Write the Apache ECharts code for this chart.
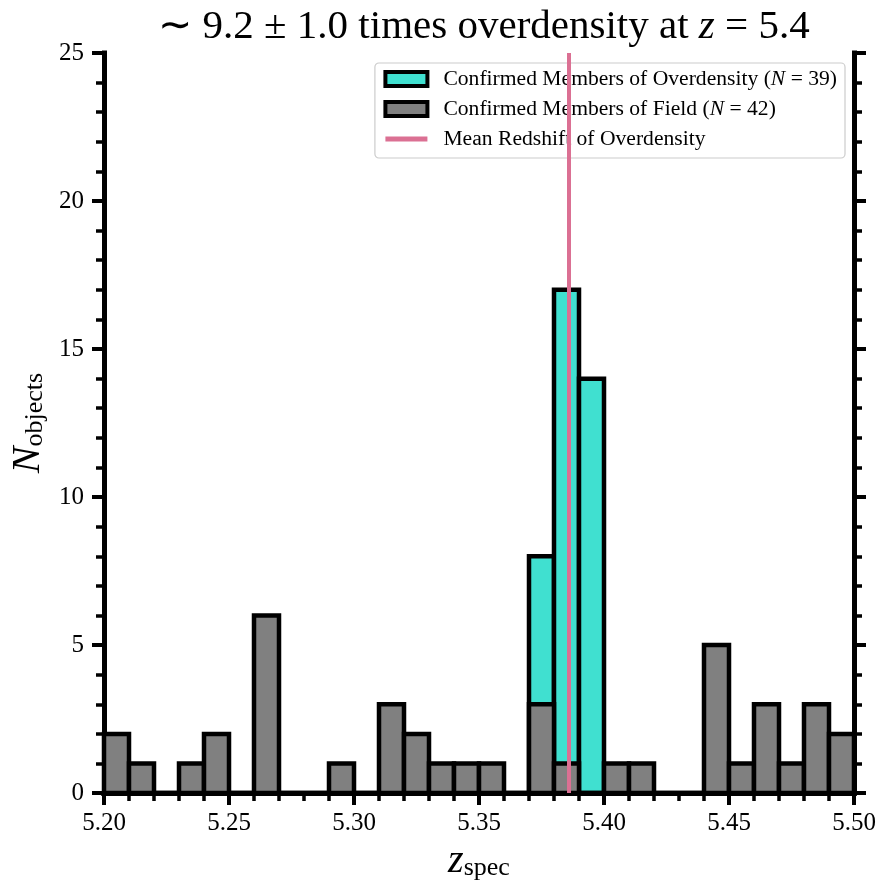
<!DOCTYPE html>
<html>
<head>
<meta charset="utf-8">
<script src="https://cdn.jsdelivr.net/npm/echarts@6/dist/echarts.min.js"></script>
<style>
  html, body { margin: 0; padding: 0; background: #fff; }
  #chart { width: 881px; height: 886px; }
</style>
</head>
<body>
<div id="chart"></div>
<script>
  // bin edges of the histogram (width 0.01)
  var binEdges = [5.20, 5.21, 5.22, 5.23, 5.24, 5.25, 5.26, 5.27, 5.28, 5.29,
                  5.30, 5.31, 5.32, 5.33, 5.34, 5.35, 5.36, 5.37, 5.38, 5.39,
                  5.40, 5.41, 5.42, 5.43, 5.44, 5.45, 5.46, 5.47, 5.48, 5.49, 5.50];
  var overCounts = [0, 0, 0, 0, 0, 0, 0, 0, 0, 0,
                    0, 0, 0, 0, 0, 0, 0, 8, 17, 14,
                    0, 0, 0, 0, 0, 0, 0, 0, 0, 0];
  var fieldCounts = [2, 1, 0, 1, 2, 0, 6, 0, 0, 1,
                     0, 3, 2, 1, 1, 1, 0, 3, 1, 0,
                     1, 1, 0, 0, 5, 1, 3, 1, 3, 2];
  var meanZ = 5.386;

  var nameOver = 'Confirmed Members of Overdensity';
  var nameField = 'Confirmed Members of Field';
  var nameMean = 'Mean Redshift of Overdensity';

  function toBins(counts) {
    var out = [];
    for (var i = 0; i < counts.length; i++) {
      out.push([binEdges[i], binEdges[i + 1], counts[i]]);
    }
    return out;
  }

  function histRender(fill) {
    return function (params, api) {
      var p0 = api.coord([api.value(0), api.value(2)]);
      var p1 = api.coord([api.value(1), 0]);
      return {
        type: 'rect',
        shape: { x: p0[0], y: p0[1], width: p1[0] - p0[0], height: p1[1] - p0[1] },
        style: { fill: fill, stroke: '#000', lineWidth: 4.5 }
      };
    };
  }

  var FONT = 'Liberation Serif';
  var spine = { show: true, lineStyle: { color: '#000', width: 5, cap: 'square' } };

  var myChart = echarts.init(document.getElementById('chart'), null, { renderer: 'canvas' });

  var option = {
    animation: false,
    backgroundColor: '#fff',
    textStyle: { fontFamily: FONT },
    title: {
      text: '{a|∼ 9.2 ± 1.0 times overdensity at }{i|z}{a| = 5.4}',
      left: 479,
      top: 2,
      textAlign: 'center',
      textStyle: {
        fontWeight: 'normal',
        rich: {
          a: { fontFamily: FONT, fontSize: 41, fontWeight: 'normal', color: '#000' },
          i: { fontFamily: FONT, fontSize: 41, fontWeight: 'normal', fontStyle: 'italic', color: '#000' }
        }
      }
    },
    grid: { left: 104, right: 27, top: 53, bottom: 87, containLabel: false },
    legend: {
      orient: 'vertical',
      right: 36,
      top: 63,
      padding: [5, 8, 8, 8],
      itemWidth: 42,
      itemHeight: 14,
      itemGap: 8,
      backgroundColor: '#fff',
      borderColor: '#cccccc',
      borderWidth: 1.2,
      borderRadius: 4,
      data: [
        { name: nameOver, icon: 'rect', itemStyle: { color: '#40E0D0', borderColor: '#000', borderWidth: 4 } },
        { name: nameField, icon: 'rect', itemStyle: { color: '#808080', borderColor: '#000', borderWidth: 4 } },
        { name: nameMean, itemStyle: { color: 'rgba(0,0,0,0)', borderWidth: 0 }, lineStyle: { width: 5 } }
      ],
      formatter: function (name) {
        if (name === nameOver) return '{t|' + name + ' (}{i|N}{t| = 39)}';
        if (name === nameField) return '{t|' + name + ' (}{i|N}{t| = 42)}';
        return '{t|' + name + '}';
      },
      textStyle: {
        padding: [0, 0, 0, 11],
        rich: {
          t: { fontFamily: FONT, fontSize: 21.6, color: '#000' },
          i: { fontFamily: FONT, fontSize: 21.6, fontStyle: 'italic', color: '#000' }
        }
      }
    },
    xAxis: [{
      type: 'value',
      min: 5.20,
      max: 5.50,
      interval: 0.05,
      position: 'bottom',
      axisLine: spine,
      axisTick: { show: true, inside: false, length: 12, lineStyle: { color: '#000', width: 4 } },
      minorTick: { show: true, splitNumber: 5, length: 8, lineStyle: { color: '#000', width: 3.5 } },
      splitLine: { show: false },
      axisLabel: {
        margin: 18,
        fontFamily: FONT,
        fontSize: 25,
        color: '#000',
        formatter: function (v) { return v.toFixed(2); }
      },
      name: '{i|z}{s|spec}',
      nameLocation: 'middle',
      nameGap: 40,
      nameTextStyle: {
        rich: {
          i: { fontFamily: FONT, fontSize: 40, fontStyle: 'italic', color: '#000', lineHeight: 42, verticalAlign: 'bottom' },
          s: { fontFamily: FONT, fontSize: 26, color: '#000', lineHeight: 14, verticalAlign: 'bottom' }
        }
      }
    }, {
      type: 'value',
      min: 5.20,
      max: 5.50,
      position: 'top',
      axisLine: spine,
      axisTick: { show: false },
      axisLabel: { show: false },
      splitLine: { show: false }
    }],
    yAxis: [{
      type: 'value',
      min: 0,
      max: 25,
      interval: 5,
      position: 'left',
      axisLine: spine,
      axisTick: { show: true, inside: false, length: 12, lineStyle: { color: '#000', width: 4 } },
      minorTick: { show: true, splitNumber: 5, length: 8, lineStyle: { color: '#000', width: 3.5 } },
      splitLine: { show: false },
      axisLabel: { margin: 20, fontFamily: FONT, fontSize: 25, color: '#000' },
      name: '{i|N}{s|objects}',
      nameLocation: 'middle',
      nameGap: 52,
      nameTextStyle: {
        rich: {
          i: { fontFamily: FONT, fontSize: 40, fontStyle: 'italic', color: '#000', lineHeight: 42, verticalAlign: 'bottom' },
          s: { fontFamily: FONT, fontSize: 26, color: '#000', lineHeight: 14, verticalAlign: 'bottom' }
        }
      }
    }, {
      type: 'value',
      min: 0,
      max: 25,
      interval: 5,
      position: 'right',
      axisLine: spine,
      axisTick: { show: true, inside: false, length: 12, lineStyle: { color: '#000', width: 4 } },
      minorTick: { show: true, splitNumber: 5, length: 8, lineStyle: { color: '#000', width: 3.5 } },
      splitLine: { show: false },
      axisLabel: { show: false }
    }],
    series: [{
      name: nameOver,
      type: 'custom',
      z: 2,
      renderItem: histRender('#40E0D0'),
      itemStyle: { color: '#40E0D0' },
      encode: { x: [0, 1], y: 2 },
      data: toBins(overCounts)
    }, {
      name: nameField,
      type: 'custom',
      z: 3,
      renderItem: histRender('#808080'),
      itemStyle: { color: '#808080' },
      encode: { x: [0, 1], y: 2 },
      data: toBins(fieldCounts)
    }, {
      name: nameMean,
      type: 'line',
      z: 4,
      symbol: 'none',
      lineStyle: { color: '#DB7093', width: 4 },
      itemStyle: { color: '#DB7093' },
      data: [[meanZ, 0], [meanZ, 25]]
    }]
  };

  myChart.setOption(option);
  window.addEventListener('resize', myChart.resize);
</script>
</body>
</html>
